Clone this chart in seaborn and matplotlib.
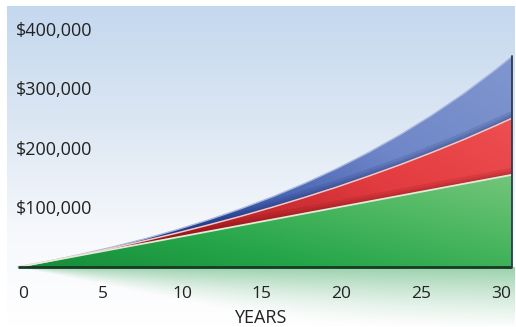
import numpy as np
import matplotlib
matplotlib.use("Agg")
import matplotlib.pyplot as plt
import seaborn as sns
from matplotlib.colors import LinearSegmentedColormap, to_rgb

# Growth of a $5,000 yearly deposit (dollars)
years = [0, 2, 4, 6, 8, 10, 12, 14, 16, 18, 20, 22, 24, 26, 28, 30, 31]
deposits = [0, 10000, 20000, 30000, 40000, 50000, 60000, 70000, 80000,
            90000, 100000, 110000, 120000, 130000, 140000, 150000, 155000]
value_3pct = [0, 10100, 20900, 32300, 44500, 57300, 71000, 85400, 100800,
              117100, 134300, 152800, 172100, 192800, 214500, 237900, 250000]
value_5pct = [0, 10200, 21600, 34000, 47700, 62900, 79600, 98000, 118300,
              140700, 165300, 192500, 222500, 255600, 291900, 332200, 353800]

x_ticks = [0, 5, 10, 15, 20, 25, 30]
y_ticks = [100000, 200000, 300000, 400000]
y_tick_labels = ["$100,000", "$200,000", "$300,000", "$400,000"]
x_label = "YEARS"

sns.set_theme(style="white")
plt.rcParams["font.family"] = ["Open Sans", "DejaVu Sans"]

fig = plt.figure(figsize=(5.16, 3.27), dpi=100)
ax = fig.add_axes([0, 0, 1, 1])
XLIM = (-1.13, 31.25)
YLIM = (-100800, 448700)
ax.axis("off")

# sky-like panel behind the chart
n = 256
bg_cmap = LinearSegmentedColormap.from_list(
    "bg", [(0.0, "#ffffff"), (0.30, "#f6f8fc"), (0.36, "#f1f5fa"),
           (0.65, "#dbe6f3"), (1.0, "#c4d8ee")])
grad = np.linspace(0, 1, n).reshape(-1, 1)
ax.imshow(grad, extent=[-0.69, 31.13, YLIM[0], 437000], origin="lower",
          cmap=bg_cmap, aspect="auto", zorder=0, vmin=0, vmax=1)

xs = np.asarray(years, float)
dep = np.asarray(deposits, float)
v3 = np.asarray(value_3pct, float)
v5 = np.asarray(value_5pct, float)


def shaded_band(lo, hi, stops, wx, z):
    poly = ax.fill_between(xs, lo, hi, facecolor="none", edgecolor="none",
                           zorder=z)
    xx, yy = np.meshgrid(np.linspace(0, 1, n), np.linspace(0, 1, n))
    t = wx * xx + (1 - wx) * yy
    cmap = LinearSegmentedColormap.from_list("band", stops)
    im = ax.imshow(t, extent=[xs.min(), xs.max(), lo.min(), hi.max()],
                   origin="lower", cmap=cmap, aspect="auto", zorder=z,
                   vmin=0, vmax=1)
    clip = poly.get_paths()[0]
    im.set_clip_path(clip, transform=ax.transData)
    return clip


# soft green reflection under the baseline
gx = np.linspace(0, 31.13, 400)
gy = np.linspace(-100000, 0, 200)
depth = 1.1 * np.interp(gx, xs, dep) + 1.0
d = -gy[:, None]
fall = np.clip(1 - d / depth[None, :], 0, 1) ** 1.1
vert = np.clip(1 - d / 100000, 0, 1) ** 0.7
img = np.zeros((gy.size, gx.size, 4))
img[..., :3] = to_rgb("#8fcda2")
img[..., 3] = 0.9 * fall * vert
ax.imshow(img, extent=[0, 31.13, -100000, 0], origin="lower",
          aspect="auto", zorder=1, interpolation="bilinear")

# stacked value bands
blue_clip = shaded_band(v3, v5, ["#1c3a8e", "#3552a6", "#6f87c8", "#8096cf"],
                        0.6, 3)
red_clip = shaded_band(dep, v3, ["#8a1216", "#b52126", "#e23b40", "#ee4f50"],
                       0.65, 4)
shaded_band(np.zeros_like(dep), dep,
            ["#158c3a", "#25a549", "#4cb761", "#74c67a"], 0.55, 5)

# soft shadows at the foot of the upper bands
for ys, col, clip in [(deposits, "#6e0c10", red_clip),
                      (value_3pct, "#0e2160", blue_clip)]:
    for w in (10, 6, 3):
        sns.lineplot(x=years, y=ys, ax=ax, color=col, lw=w, alpha=0.13,
                     zorder=5.5, estimator=None, sort=False)
        ax.lines[-1].set_clip_path(clip, transform=ax.transData)

# highlights along the band edges
sns.lineplot(x=years, y=value_5pct, ax=ax, color="#aab8e0", lw=1.0,
             zorder=6, estimator=None, sort=False)
sns.lineplot(x=years, y=value_3pct, ax=ax, color="#f3c8c6", lw=1.1,
             zorder=6, estimator=None, sort=False)
sns.lineplot(x=years, y=deposits, ax=ax, color="#e2ead8", lw=1.3,
             zorder=6, estimator=None, sort=False)

# baseline and right edge
ax.plot([0, 31], [0, 0], color="#163a22", lw=2.0, zorder=7,
        solid_capstyle="butt")
ax.plot([31, 31], [0, value_5pct[-1]], color="#2d3a55", lw=1.3, zorder=7)

text_color = "#222222"
for t in x_ticks:
    ax.text(t + 0.3, -45000, str(t), ha="center", va="center", fontsize=12.5,
            color=text_color, zorder=8)
ax.text(15.2, -86000, x_label, ha="center", va="center", fontsize=13,
        color=text_color, zorder=8)
for v, lab in zip(y_ticks, y_tick_labels):
    ax.text(-0.13, v - 3000, lab, ha="left", va="center", fontsize=13,
            color=text_color, zorder=8)

ax.set_xlim(*XLIM)
ax.set_ylim(*YLIM)
fig.savefig("out.png", dpi=100, facecolor="white")
